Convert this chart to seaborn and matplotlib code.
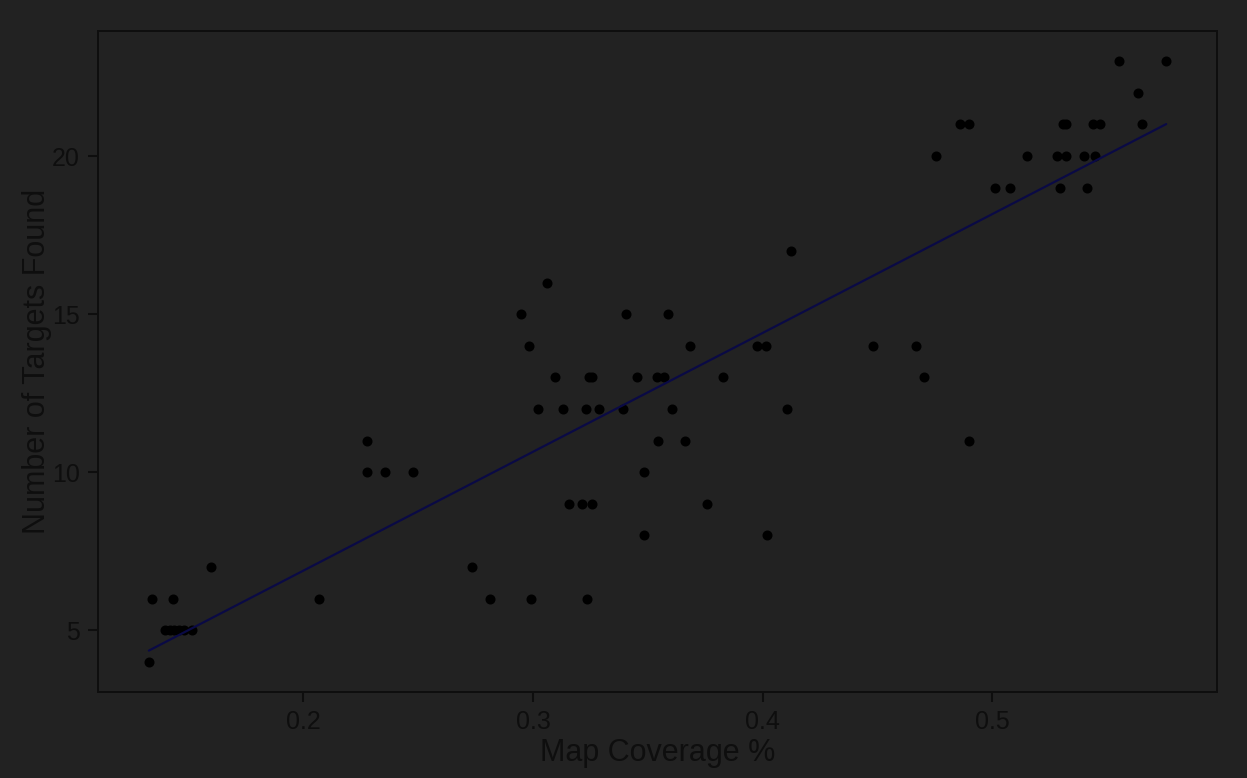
import matplotlib
matplotlib.use("Agg")
import matplotlib.pyplot as plt
import seaborn as sns
import pandas as pd

coverage = [
    0.1327, 0.1342, 0.1433, 0.1397, 0.1419, 0.1438, 0.1458, 0.1478, 0.1513,
    0.1597, 0.2069, 0.2275, 0.2278, 0.2356, 0.2477, 0.2734, 0.2813, 0.2947,
    0.2983, 0.2990, 0.3022, 0.3061, 0.3095, 0.3131, 0.3159, 0.3212, 0.3233,
    0.3237, 0.3245, 0.3258, 0.3257, 0.3288, 0.3392, 0.3405, 0.3451, 0.3484,
    0.3482, 0.3540, 0.3545, 0.3569, 0.3587, 0.3604, 0.3660, 0.3686, 0.3757,
    0.3826, 0.3976, 0.4017, 0.4019, 0.4108, 0.4125, 0.4481, 0.4670, 0.4701,
    0.4757, 0.4861, 0.4899, 0.4897, 0.5012, 0.5079, 0.5153, 0.5283, 0.5297,
    0.5308, 0.5320, 0.5323, 0.5402, 0.5412, 0.5441, 0.5450, 0.5471, 0.5552,
    0.5633, 0.5652, 0.5758,
]
targets = [
    4, 6, 6, 5, 5, 5, 5, 5, 5,
    7, 6, 11, 10, 10, 10, 7, 6, 15,
    14, 6, 12, 16, 13, 12, 9, 9, 12,
    6, 13, 13, 9, 12, 12, 15, 13, 10,
    8, 13, 11, 13, 15, 12, 11, 14, 9,
    13, 14, 14, 8, 12, 17, 14, 14, 13,
    20, 21, 21, 11, 19, 19, 20, 20, 19,
    21, 21, 20, 20, 19, 21, 20, 21, 23,
    22, 21, 23,
]
x_ticks = [0.2, 0.3, 0.4, 0.5]
y_ticks = [5, 10, 15, 20]

df = pd.DataFrame({"Map Coverage %": coverage, "Number of Targets Found": targets})

sns.set_style("ticks")
plt.rcParams["font.family"] = ["Liberation Sans", "DejaVu Sans"]

bg = "#222222"
ink = "#0e0e0e"

fig = plt.figure(figsize=(12.47, 7.78), dpi=100, facecolor=bg)
ax = fig.add_axes([0.0786, 0.1105, 0.8974, 0.8495])
ax.set_facecolor(bg)

sns.regplot(data=df, x="Map Coverage %", y="Number of Targets Found", ax=ax,
            ci=None, truncate=True,
            scatter_kws=dict(s=52, color="#000000", linewidths=0, alpha=1),
            line_kws=dict(color="#0a0a45", linewidth=1.6))

ax.set_xticks(x_ticks)
ax.set_xticklabels([str(t) for t in x_ticks])
ax.set_yticks(y_ticks)
ax.set_yticklabels([str(t) for t in y_ticks])
ax.tick_params(axis="both", colors=ink, labelcolor=ink, labelsize=18,
               length=7, width=1.5, direction="out", pad=6)
for s in ax.spines.values():
    s.set_visible(True)
    s.set_color(ink)
    s.set_linewidth(1.4)
ax.set_xlabel("Map Coverage %", fontsize=22, color=ink, labelpad=3)
ax.set_ylabel("Number of Targets Found", fontsize=22, color=ink, labelpad=0)
ax.grid(False)

fig.savefig("out.png", dpi=100, facecolor=bg)
